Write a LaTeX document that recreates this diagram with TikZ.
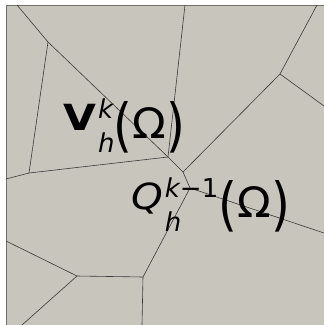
\documentclass[tikz,border=0pt]{standalone}
\usepackage{fontspec}
\setmainfont{DejaVu Sans}
\usepackage{graphicx}
\definecolor{cell}    {HTML}{C8C5BD}
\definecolor{meshline}{HTML}{3A3A3A}
\definecolor{frame}   {HTML}{707070}
\newcommand{\scr}{\fontsize{26}{26}\selectfont\itshape}
\newcommand{\scrup}{\fontsize{26}{26}\selectfont}
\newcommand{\tallparen}[1]{\raisebox{-6.5pt}{\scalebox{1.15}[1.38]{#1}}}
\newcommand{\omegagrp}{\raisebox{-8.5pt}{\fontsize{42}{42}\selectfont
  \tallparen{(}\scalebox{1.05}[1]{Ω}\tallparen{)}}}

\begin{document}
\begin{tikzpicture}[x=1pt,y=-1pt,font=\fontsize{36}{36}\selectfont,
    mesh/.style={color=meshline,line width=0.6pt}]
  \useasboundingbox (0,0) rectangle (324,325);
  \fill[cell] (6,5) rectangle (330,331);
  \draw[frame,line width=0.8pt] (6,331)--(6,5)--(330,5);
  % cell vertices and points on the boundary
  \foreach \n/\x/\y in {top1/17/5,top2/185/5,top3/317/5,left1/6/179,left2/6/241,
                        right1/324/106,right2/324/233,bot1/22/325,bot2/142/325,
                        pa/48/42,pb/29/173,pc/168/157,pd/183/172,pe/280/74,
                        pf/190/188,pg/143/277,ph/77/276}{
    \coordinate (\n) at (\x,\y);}
  \foreach \u/\v in {top1/pa,pa/pb,pa/pc,pb/left1,pb/pc,top2/pc,pc/pd,pd/pe,
                     pe/top3,pe/right1,pd/pf,pf/right2,pf/pg,pg/bot2,pg/ph,
                     ph/left2,ph/bot1}{
    \draw[mesh] (\u)--(\v);}
  \node[anchor=base west,inner sep=0pt] (vspace) at (63,130)
       {\scalebox{1.18}[1]{\textbf{V}}\kern2pt\makebox[0pt][l]{\raisebox{-22pt}{\scr h}}%
        \raisebox{11.5pt}{\scr k}\kern0.5pt\omegagrp};
  \node[anchor=base west,inner sep=0pt] (qspace) at (131,209)
       {\scalebox{1.12}[1]{\textit{Q}}\kern2pt\makebox[0pt][l]{\raisebox{-22pt}{\scr h}}%
        \raisebox{11.5pt}{{\scr k}{\scrup −1}}\kern0.5pt\omegagrp};
\end{tikzpicture}
\end{document}
